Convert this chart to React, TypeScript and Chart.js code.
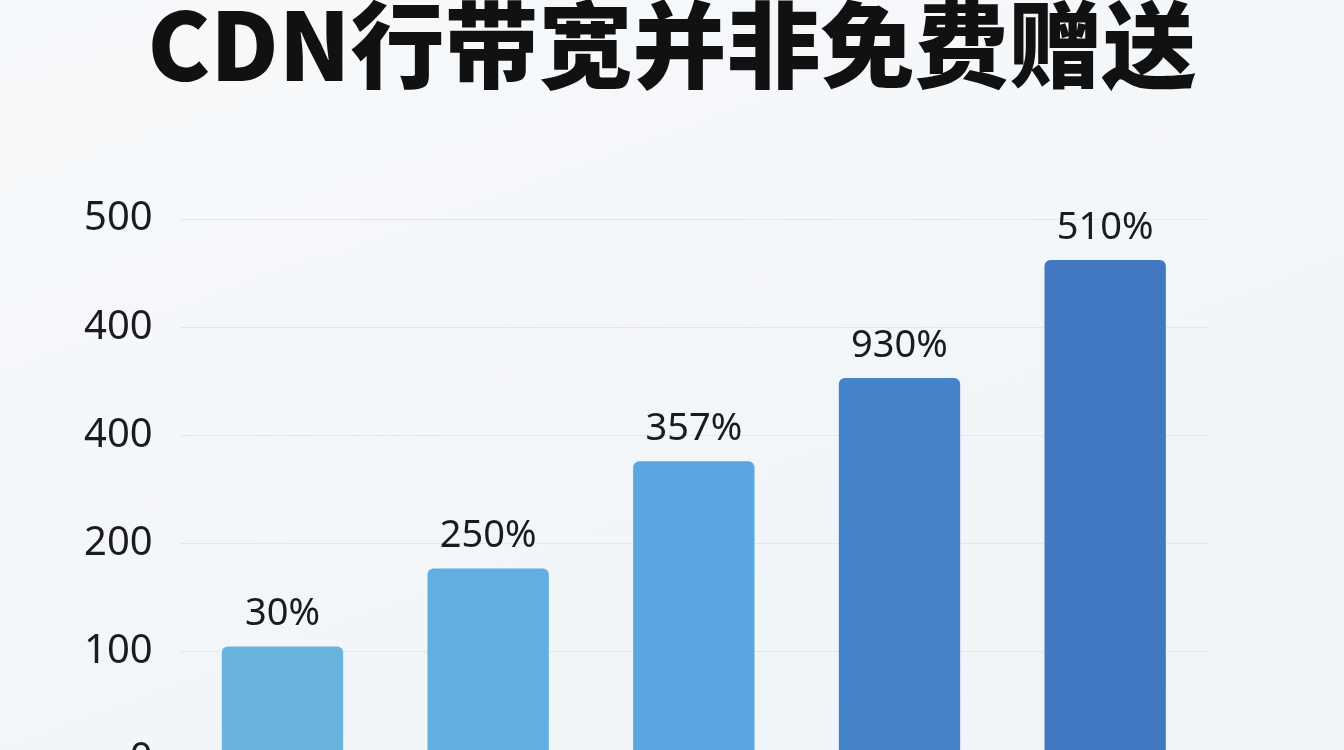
import React, { useEffect, useRef } from "react";
import { Chart, registerables } from "chart.js";

Chart.register(...registerables);

// data
const titleText = "CDN行带宽并非免费赠送";
const categories = ["A", "B", "C", "D", "E"];
const barValues = [105, 177, 276, 353, 462];
const barLabels = ["30%", "250%", "357%", "930%", "510%"];
const barColors = ["#69b4df", "#62ade1", "#5aa6e0", "#4684ca", "#4278c2"];
const tickValues = [0, 100, 200, 300, 400, 500];
const tickLabels = ["0", "100", "200", "400", "400", "500"];

// value labels above the bars
const barLabelPlugin = {
  id: "barLabels",
  afterDatasetsDraw(chart: any) {
    const { ctx } = chart;
    const meta = chart.getDatasetMeta(0);
    ctx.save();
    ctx.font = '38px "Noto Sans", sans-serif';
    ctx.fillStyle = "#1b1b1b";
    ctx.textAlign = "center";
    ctx.textBaseline = "middle";
    meta.data.forEach((bar: any, i: number) => {
      ctx.fillText(barLabels[i], bar.x, bar.y - 32);
    });
    ctx.restore();
  },
};

// title centred on the whole canvas, not on the padded box
const pageTitlePlugin = {
  id: "pageTitle",
  afterDraw(chart: any) {
    const { ctx } = chart;
    ctx.save();
    ctx.font = '900 94px "Noto Sans CJK SC", "Noto Sans", sans-serif';
    ctx.fillStyle = "#111111";
    ctx.textAlign = "center";
    ctx.textBaseline = "middle";
    ctx.fillText(titleText, chart.width / 2, 45);
    ctx.restore();
  },
};

const BarChart: React.FC = () => {
  const canvasRef = useRef<HTMLCanvasElement | null>(null);

  useEffect(() => {
    if (!canvasRef.current) return;
    const chart = new Chart(canvasRef.current, {
      type: "bar",
      data: {
        labels: categories,
        datasets: [
          {
            data: barValues,
            backgroundColor: barColors,
            borderRadius: 6,
            barPercentage: 0.59,
            categoryPercentage: 1,
          },
        ],
      },
      options: {
        animation: false,
        responsive: false,
        devicePixelRatio: 1,
        layout: {
          padding: { left: 57, right: 136, top: 219, bottom: 0 },
        },
        plugins: {
          legend: { display: false },
          tooltip: { enabled: false },
          title: { display: false },
        },
        scales: {
          x: { display: false },
          y: {
            min: 0,
            max: 500,
            afterBuildTicks: (axis: any) => {
              axis.ticks = tickValues.map((v) => ({ value: v }));
            },
            ticks: {
              padding: 27,
              color: "#1b1b1b",
              font: { family: '"Noto Sans", sans-serif', size: 40 },
              callback: (value: any) => tickLabels[tickValues.indexOf(Number(value))] ?? "",
            },
            grid: { color: "#e3e6ea", drawTicks: false },
            border: { display: false },
          },
        },
      },
      plugins: [barLabelPlugin, pageTitlePlugin],
    });
    return () => chart.destroy();
  }, []);

  return (
    <div
      style={{
        position: "fixed",
        left: 0,
        top: 0,
        width: 1344,
        height: 750,
        overflow: "hidden",
        background: "linear-gradient(160deg, #f7f9fb 0%, #f3f6f9 60%, #eff4f8 100%)",
      }}
    >
      <canvas ref={canvasRef} width={1344} height={811} style={{ display: "block" }}></canvas>
    </div>
  );
};

export default function App() {
  return <BarChart />;
}
